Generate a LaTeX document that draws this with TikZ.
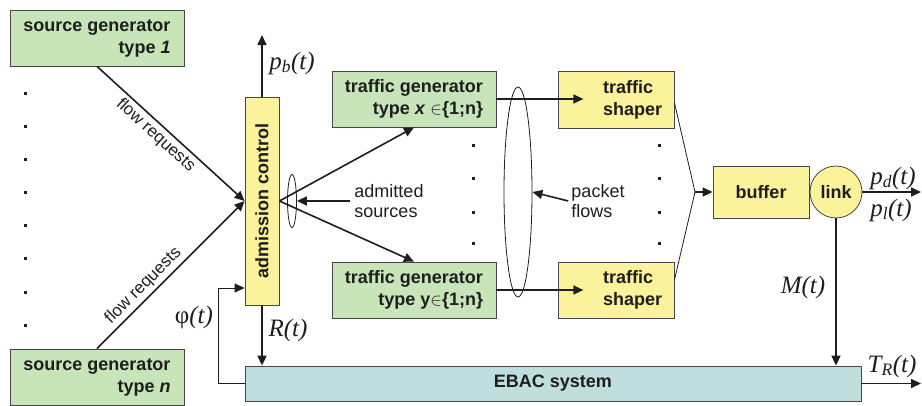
\documentclass[tikz,border=0pt]{standalone}
\usepackage{fontspec}
\setmainfont{Liberation Sans}
\newfontfamily\tms{Liberation Serif}
\usetikzlibrary{shapes.geometric,arrows.meta}
\definecolor{gfill}{RGB}{200,228,185}
\definecolor{yfill}{RGB}{251,242,156}
\definecolor{tfill}{RGB}{190,223,222}
\definecolor{bord}{RGB}{70,70,70}
\definecolor{ink}{RGB}{30,30,30}
\begin{document}
\begin{tikzpicture}[x=1pt,y=-1pt,
  box/.style={draw=bord, line width=0.8pt, inner sep=0pt, text=ink,
    font=\fontsize{18}{22}\selectfont\bfseries},
  gbox/.style={box, fill=gfill},
  ybox/.style={box, fill=yfill},
  arr/.style={draw=ink, line width=1.6pt, -{Triangle[length=10pt,width=9pt]}},
  thinline/.style={draw=ink, line width=0.8pt},
  lab/.style={font=\fontsize{18}{20}\selectfont, align=left, inner sep=0pt, text=ink},
  flab/.style={font=\fontsize{17}{20}\selectfont, inner sep=3pt, text=ink},
  mlab/.style={font=\tms\itshape\fontsize{25}{25}\selectfont, inner sep=0pt, text=ink},
  ellnode/.style={draw=ink, line width=0.8pt, ellipse, inner sep=0pt}]
\useasboundingbox (0,0) rectangle (922,405);
% boxes
\node[gbox, minimum width=174pt, minimum height=56pt, align=right] (sg1) at (97,38) {source generator\\type \textit{1}};
\node[gbox, minimum width=174pt, minimum height=56pt, align=right] (sgn) at (97,377) {source generator\\type \textit{n}};
\node[ybox, minimum width=34pt, minimum height=208pt] (ac) at (262,201) {\rotatebox{90}{admission control}};
\node[gbox, minimum width=164pt, minimum height=56pt, align=right] (tgx) at (414,99) {traffic generator\\type \textit{x} {\normalfont$\in$}\{1;n\}};
\node[gbox, minimum width=164pt, minimum height=56pt, align=right] (tgy) at (414,290) {traffic generator\\type y{\normalfont$\in$}\{1;n\}};
\node[ybox, minimum width=116pt, minimum height=57pt] (ts1) at (616,99.5) {};
\node[ybox, minimum width=116pt, minimum height=56pt] (ts2) at (616,290) {};
\node[lab, font=\fontsize{18}{22}\selectfont\bfseries, anchor=west] (ts1t) at (603,99.5) {traffic\\shaper};
\node[lab, font=\fontsize{18}{22}\selectfont\bfseries, anchor=west] (ts2t) at (603,290) {traffic\\shaper};
\node[ybox, minimum width=96pt, minimum height=52pt] (buf) at (761,192) {buffer};
\node[ybox, circle, minimum size=52pt] (link) at (836,192) {link};
\node[box, fill=tfill, minimum width=616pt, minimum height=35pt] (ebac) at (553,383.5) {EBAC system};
% ellipses
\node[ellnode, minimum width=9pt, minimum height=53pt] (e1) at (292,201) {};
\node[ellnode, minimum width=28pt, minimum height=210pt] (e2) at (518,192) {};
% labels
\node[lab] (as) at (389,201) {admitted\\sources};
\node[lab] (pf) at (598,201) {packet\\flows};
\node[mlab] (pb) at (292,63) {p\textsubscript{b}(t)};
\node[mlab] (rt) at (288,330) {R(t)};
\node[mlab] (ph) at (194,317) {{\upshape φ}(t)};
\node[mlab] (mt) at (803,287) {M(t)};
\node[mlab] (tr) at (892,366) {T\textsubscript{R}(t)};
\node[mlab] (pd) at (893,178) {p\textsubscript{d}(t)};
\node[mlab] (pl) at (891,210) {p\textsubscript{l}(t)};
% dots
\foreach \yy in {93,126,159,192,225,258,292,325} \fill[ink] (23.5,\yy-1.5) rectangle ++(3,3);
\foreach \yy in {145,178,212,243} {
  \fill[ink] (471.5,\yy-1.5) rectangle ++(3,3);
  \fill[ink] (657.5,\yy-1.5) rectangle ++(3,3);
}
% connectors
\draw[arr] (sg1.south) -- (ac.west) node[flab, sloped, below, pos=0.45] {flow requests};
\draw[arr] (sgn.north) -- (ac.west) node[flab, sloped, above, pos=0.37] {flow requests};
\draw[arr] (ac.east) -- (tgx.south);
\draw[arr] (ac.east) -- (tgy.north);
\draw[arr] ([xshift=-4pt]as.west) -- (e1.east);
\draw[arr] ([xshift=-3pt]pf.west) -- (e2.east);
\draw[arr] (tgx.east) -- ++(87,0);
\draw[arr] (tgy.east) -- ++(87,0);
\coordinate (m) at (695,192);
\draw[thinline] ([yshift=-3pt]ts1.east) -- (m) -- ([yshift=10pt]ts2.east);
\draw[arr] (m) -- (buf.west);
\coordinate (pdend) at (921,192);
\draw[arr] (link.east) -- (pdend);
\draw[arr] (link.south) -- (link.south |- ebac.north);
\coordinate (trend) at (921,383.5);
\draw[arr] (ebac.east) -- (trend);
\draw[arr] (ac.south) -- (ac.south |- ebac.north);
\coordinate (pbend) at (262,35);
\draw[arr] (ac.north) -- (pbend);
\coordinate (phi) at (218,288);
\draw[thinline, -{Triangle[length=10pt,width=9pt]}] (ebac.west) -| (phi) -- (phi -| ac.west);
\end{tikzpicture}
\end{document}
